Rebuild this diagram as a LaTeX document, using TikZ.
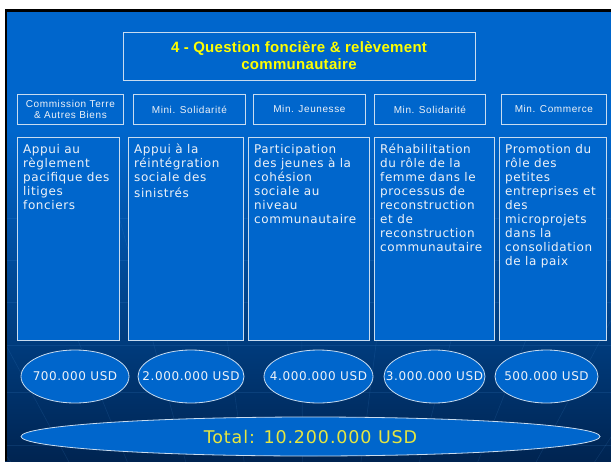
\documentclass[tikz,border=0pt]{standalone}
\usepackage{fontspec}
\setmainfont{DejaVu Sans}
\newfontfamily\bodyfont{DejaVu Sans}[LetterSpace=5]
\newfontfamily\headfont{Liberation Sans}[LetterSpace=6]
\newfontfamily\titlefont{Liberation Sans}[LetterSpace=2]
\usetikzlibrary{shapes.geometric}

\definecolor{slideblue}{HTML}{0066CC}
\definecolor{slidenavy}{HTML}{002451}
\definecolor{boxline}{HTML}{C8DCF0}
\definecolor{textwhite}{HTML}{EEF2F8}
\definecolor{titleyellow}{HTML}{FFFF00}
\definecolor{totalyellow}{HTML}{E6E640}

\tikzset{
  basic/.style    = {draw=boxline, line width=0.8pt, fill=slideblue, rectangle, inner sep=0pt, anchor=north west},
  title/.style    = {basic, anchor=center, minimum width=352pt, minimum height=48pt, align=center,
                     text=titleyellow, font=\titlefont\bfseries\fontsize{15}{17}\selectfont},
  head/.style     = {basic, minimum height=30pt, align=center, text=textwhite,
                     font=\headfont\fontsize{10}{11.5}\selectfont},
  body/.style     = {basic, minimum height=203pt},
  bodytext/.style = {anchor=north west, inner sep=0pt, align=left, text=textwhite,
                     font=\bodyfont\fontsize{12}{14}\selectfont},
  amount/.style   = {ellipse, draw=boxline, line width=0.8pt, fill=slideblue, minimum height=53pt,
                     inner xsep=-45pt, inner ysep=-6pt, text=textwhite,
                     font=\bodyfont\fontsize{12}{14}\selectfont},
  total/.style    = {amount, minimum width=579pt, minimum height=39pt, inner xsep=-100pt,
                     text=totalyellow, font=\bodyfont\fontsize{17.5}{20}\selectfont},
  gridline/.style = {draw=slideblue!70!white, opacity=0.15, line width=0.6pt}
}

\begin{document}
\begin{tikzpicture}[x=1pt, y=-1pt]

\useasboundingbox (0,0) rectangle (611,461);

% slide background
\fill[slideblue] (5,10) rectangle (611,461);
\shade[top color=slideblue, bottom color=slidenavy] (5,130) rectangle (611,461);
\begin{scope}
  \clip (5,200) rectangle (611,461);
  \foreach \gy in {218,260,302,345,392,445}
    \draw[gridline] (5,\gy) -- (611,\gy);
  \foreach \gx in {-780,-660,...,1400}
    \draw[gridline] (305,900) -- (\gx,0);
\end{scope}
\draw[black, line width=2.5pt] (6,461) -- (6,10.5) -- (611,10.5);

% title
\node[title] (t) at (299,56) {4 - Question foncière \& relèvement\\communautaire};

% the ministries
\begin{scope}[every node/.style={head}]
\node [minimum width=106pt] (h1) at (17,94)  {Commission Terre\\\& Autres Biens};
\node [minimum width=112pt] (h2) at (133,94) {Mini. Solidarité};
\node [minimum width=112pt] (h3) at (253,94) {Min. Jeunesse};
\node [minimum width=111pt] (h4) at (374,94) {Min. Solidarité};
\node [minimum width=105pt] (h5) at (501,94) {Min. Commerce};
\end{scope}

% the actions
\begin{scope}[every node/.style={body}]
\node [minimum width=102pt] (b1) at (17,137)  {};
\node [minimum width=115pt] (b2) at (128,137) {};
\node [minimum width=121pt] (b3) at (248,137) {};
\node [minimum width=120pt] (b4) at (374,137) {};
\node [minimum width=107pt] (b5) at (499,137) {};
\end{scope}

\begin{scope}[every node/.style={bodytext}]
\node (b1t) at ([shift={(6,7)}]b1.north west) {Appui au\\règlement\\pacifique des\\litiges\\fonciers};
\node (b2t) at ([shift={(6,7)}]b2.north west) {Appui à la\\réintégration\\sociale des\\[2pt]sinistrés};
\node (b3t) at ([shift={(6,7)}]b3.north west) {Participation\\des jeunes à la\\cohésion\\sociale au\\niveau\\communautaire};
\node (b4t) at ([shift={(6,7)}]b4.north west) {Réhabilitation\\du rôle de la\\femme dans le\\processus de\\reconstruction\\et de\\reconstruction\\communautaire};
\node (b5t) at ([shift={(6,7)}]b5.north west) {Promotion du\\rôle des\\petites\\entreprises et\\des\\microprojets\\dans la\\consolidation\\de la paix};
\end{scope}

% the amounts
\begin{scope}[every node/.style={amount}]
\node [minimum width=108pt] (a1) at (75,376.5)  {700.000 USD};
\node [minimum width=106pt] (a2) at (191,376.5) {2.000.000 USD};
\node [minimum width=109pt] (a3) at (318.5,376.5) {4.000.000 USD};
\node [minimum width=101pt] (a4) at (434.5,376.5) {3.000.000 USD};
\node [minimum width=103pt] (a5) at (546.5,376.5) {500.000 USD};
\end{scope}

\node[total] (tot) at (310.5,436.5) {Total: 10.200.000 USD};

\end{tikzpicture}
\end{document}
